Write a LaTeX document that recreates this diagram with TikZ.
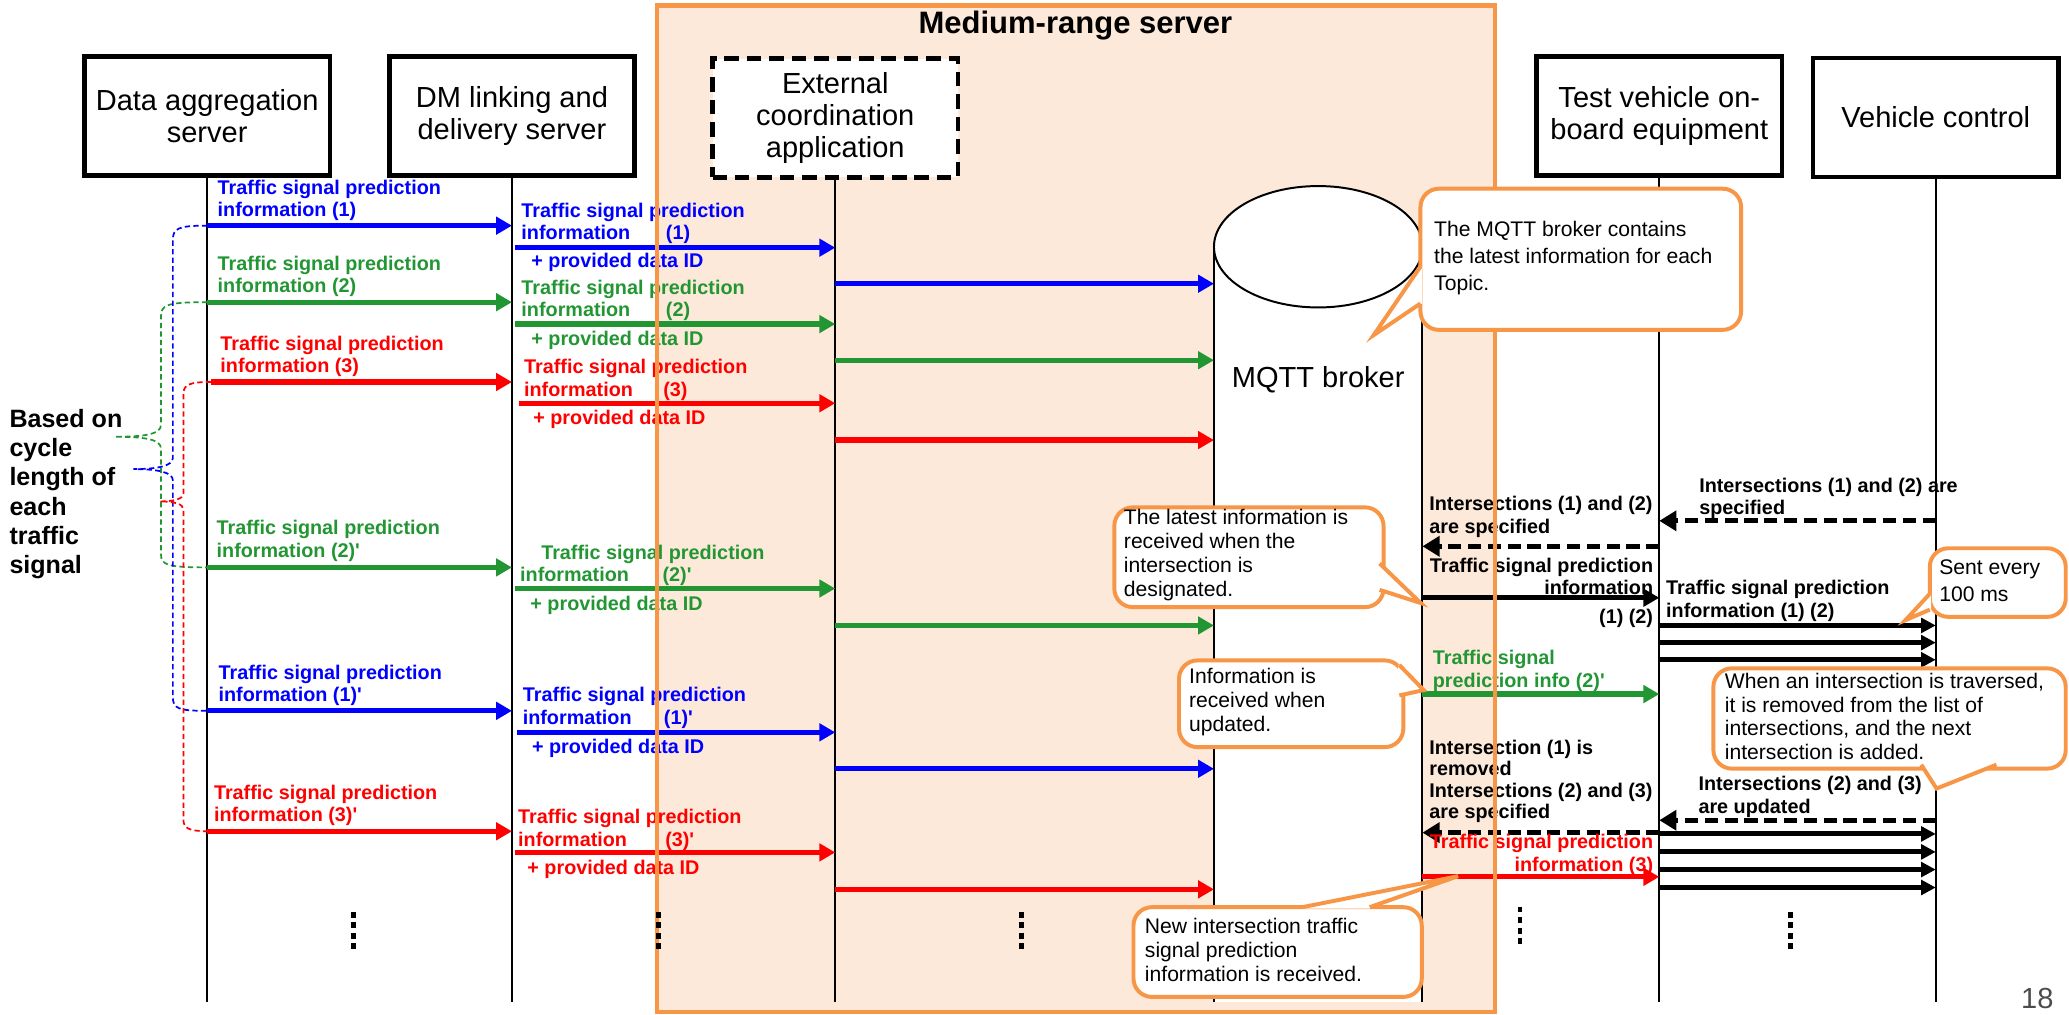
\documentclass[tikz,border=0pt]{standalone}
\usepackage{fontspec}
\setmainfont{Liberation Sans}
\usetikzlibrary{arrows.meta,shapes.geometric}
\definecolor{ogreen}{RGB}{35,150,52}
\definecolor{oorange}{RGB}{247,150,70}
\definecolor{peach}{RGB}{253,233,217}
\definecolor{oblue}{RGB}{0,0,255}
\definecolor{ored}{RGB}{255,0,0}
\tikzset{
  hdr/.style={draw=black, line width=3.5pt, fill=white, minimum width=186pt, minimum height=90pt,
    align=center, font=\fontsize{22}{24.5}\selectfont, inner sep=0pt},
  life/.style={line width=1.3pt, black},
  msg/.style={line width=4pt, -{Triangle[length=12pt,width=13pt]}},
  smsg/.style={line width=3.8pt, black, -{Triangle[length=11pt,width=11pt]}},
  dmsg/.style={line width=4pt, black, dash pattern=on 10pt off 5pt, -{Triangle[length=13pt,width=15pt]}},
  lbl/.style={font=\bfseries\fontsize{15}{17}\selectfont, align=left, inner sep=0pt, anchor=west},
  bd/.style={line width=1.3pt, dash pattern=on 4pt off 2.5pt},
  dots/.style={line width=3.5pt, black, dash pattern=on 4.5pt off 3.5pt},
  cbox/.style={draw=oorange, line width=3pt, fill=white, rounded corners=14pt, inner sep=0pt, anchor=north west},
  ctext/.style={font=\fontsize{16}{18}\selectfont, align=left, inner sep=0pt, anchor=west},
  ptrfill/.style={fill=white},
  ptrline/.style={draw=oorange, line width=3pt, line join=miter},
}
\begin{document}
\begin{tikzpicture}[x=1pt,y=-1pt]
\useasboundingbox (0,0) rectangle (1568,768.5);
% medium-range server background
\fill[peach] (498,4) rectangle (1133,767);

% header boxes
\node[hdr] (DA) at (157,88) {Data aggregation\\server};
\node[hdr] (DM) at (388,88) {DM linking and\\delivery server};
\node[hdr, dash pattern=on 11pt off 6pt] (ECA) at (633,89.5) {External\\coordination\\application};
\node[hdr] (TV) at (1257.5,88) {Test vehicle on-\\board equipment};
\node[hdr] (VC) at (1467,89) {Vehicle control};

% lifelines
\draw[life] (DA.south) -- (DA.south |- 0,759);
\draw[life] (DM.south) -- (DM.south |- 0,759);
\draw[life] (ECA.south) -- (ECA.south |- 0,759);
\draw[life] (TV.south) -- (TV.south |- 0,759);
\draw[life] (VC.south) -- (VC.south |- 0,759);

% MQTT broker cylinder
\coordinate (mqL) at (920,187);
\coordinate (mqR) at (1078,187);
\fill[white] (mqL) rectangle (1078,759);
\draw[line width=1.5pt] (mqL) -- (mqL |- 0,759);
\draw[line width=1.5pt] (mqR) -- (mqR |- 0,759);
\node[ellipse, draw, line width=1.5pt, fill=white, minimum width=158pt, minimum height=92pt, inner sep=0pt] (mqtop) at (999,187) {};
\node[font=\fontsize{22}{24}\selectfont, inner sep=0pt] (mqtxt) at (999,288) {MQTT broker};

% braces
\draw[bd, ogreen] (157,229) .. controls (126,229) and (122,231) .. (122,240) -- (122,322)
  .. controls (122,329) and (110,331) .. (87,331) .. controls (110,331) and (122,333) .. (122,340)
  -- (122,420) .. controls (122,428) and (126,430) .. (157,430);
\draw[bd, oblue] (157,171) .. controls (135,171) and (131,173) .. (131,182) -- (131,347)
  .. controls (131,353) and (120,355.5) .. (101,355.5) .. controls (120,355.5) and (131,358) .. (131,364)
  -- (131,528) .. controls (131,537) and (135,538.7) .. (157,538.7);
\draw[bd, ored] (160,289.5) .. controls (143,289.5) and (139,291.5) .. (139,299) -- (139,374)
  .. controls (139,378) and (132,380) .. (121,380) .. controls (132,380) and (139,382) .. (139,386)
  -- (139,621) .. controls (139,628) and (143,630) .. (160,630);
\node[lbl, font=\bfseries\fontsize{19}{22.2}\selectfont] (based) at (7,374.5) {Based on\\cycle\\length of\\each\\traffic\\signal};

% column 1 arrows DA -> DM
\draw[msg, oblue] (DA |- 0,171) -- (DM |- 0,171);
\draw[msg, ogreen] (DA |- 0,229) -- (DM |- 0,229);
\draw[msg, ored] (160,289.5) -- (DM |- 0,289.5);
\draw[msg, ogreen] (DA |- 0,430) -- (DM |- 0,430);
\draw[msg, oblue] (DA |- 0,538.7) -- (DM |- 0,538.7);
\draw[msg, ored] (DA |- 0,630) -- (DM |- 0,630);
\node[lbl, text=oblue] (l11) at (164.8,152) {Traffic signal prediction\\information (1)};
\node[lbl, text=ogreen] (l12) at (164.8,209.5) {Traffic signal prediction\\information (2)};
\node[lbl, text=ored] (l13) at (166.9,270) {Traffic signal prediction\\information (3)};
\node[lbl, text=ogreen] (l14) at (164,410) {Traffic signal prediction\\information (2)\textquotesingle};
\node[lbl, text=oblue] (l15) at (165.5,519.5) {Traffic signal prediction\\information (1)\textquotesingle};
\node[lbl, text=ored] (l16) at (162,610.5) {Traffic signal prediction\\information (3)\textquotesingle};

% column 2 arrows DM -> ECA
\draw[msg, oblue] (390,187.7) -- (ECA |- 0,187.7);
\draw[msg, ogreen] (390,245.6) -- (ECA |- 0,245.6);
\draw[msg, ored] (393,305.6) -- (ECA |- 0,305.6);
\draw[msg, ogreen] (390,446) -- (ECA |- 0,446);
\draw[msg, oblue] (392,555) -- (ECA |- 0,555);
\draw[msg, ored] (390,646) -- (ECA |- 0,646);
\node[lbl, text=oblue] (l21) at (395,169.5) {Traffic signal prediction\\information\hspace{27pt}(1)};
\node[lbl, text=oblue] (p21) at (402.5,199) {+ provided data ID};
\node[lbl, text=ogreen] (l22) at (395,227.7) {Traffic signal prediction\\information\hspace{27pt}(2)};
\node[lbl, text=ogreen] (p22) at (402.5,257.7) {+ provided data ID};
\node[lbl, text=ored] (l23) at (397,288) {Traffic signal prediction\\information\hspace{23pt}(3)};
\node[lbl, text=ored] (p23) at (404,317.6) {+ provided data ID};
\node[lbl, text=ogreen] (l24) at (394,428.5) {\hspace*{16pt}Traffic signal prediction\\information\hspace{25.5pt}(2)\textquotesingle};
\node[lbl, text=ogreen] (p24) at (401.8,458.6) {+ provided data ID};
\node[lbl, text=oblue] (l25) at (396,536.5) {Traffic signal prediction\\information\hspace{24.5pt}(1)\textquotesingle};
\node[lbl, text=oblue] (p25) at (403,567) {+ provided data ID};
\node[lbl, text=ored] (l26) at (392.5,629) {Traffic signal prediction\\information\hspace{29pt}(3)\textquotesingle};
\node[lbl, text=ored] (p26) at (399.5,659) {+ provided data ID};

% column 3 arrows ECA -> MQTT
\draw[msg, oblue] (ECA |- 0,215) -- (mqL |- 0,215);
\draw[msg, ogreen] (ECA |- 0,273) -- (mqL |- 0,273);
\draw[msg, ored] (ECA |- 0,333.5) -- (mqL |- 0,333.5);
\draw[msg, ogreen] (ECA |- 0,474) -- (mqL |- 0,474);
\draw[msg, oblue] (ECA |- 0,582.6) -- (mqL |- 0,582.6);
\draw[msg, ored] (ECA |- 0,674) -- (mqL |- 0,674);

% right side
\draw[dmsg] (VC |- 0,394.7) -- (TV |- 0,394.7);
\node[lbl] (r1) at (1287.6,377.8) {Intersections (1) and (2) are\\specified};
\draw[dmsg] (TV |- 0,414) -- (mqR |- 0,414);
\node[lbl] (r2) at (1083,391.8) {Intersections (1) and (2)\\are specified};
\draw[msg, black] (mqR |- 0,453) -- (TV |- 0,453);
\node[lbl, align=right, anchor=east] (r3) at (1253,437) {Traffic signal prediction\\information};
\node[lbl, anchor=east] (r4) at (1253,468.6) {(1) (2)};
\draw[smsg] (TV |- 0,474) -- (VC |- 0,474);
\draw[smsg] (TV |- 0,487) -- (VC |- 0,487);
\draw[smsg] (TV |- 0,500) -- (VC |- 0,500);
\node[lbl] (r5) at (1262.5,455.3) {Traffic signal prediction\\information (1) (2)};
\draw[msg, ogreen] (mqR |- 0,526) -- (TV |- 0,526);
\node[lbl, text=ogreen] (r6) at (1085.7,508.3) {Traffic signal\\prediction info (2)\textquotesingle};
\node[lbl, font=\bfseries\fontsize{15}{16.3}\selectfont] (r7) at (1083,592) {Intersection (1) is\\removed\\Intersections (2) and (3)\\are specified};
\draw[dmsg] (VC |- 0,621.6) -- (TV |- 0,621.6);
\node[lbl] (r8) at (1287,604) {Intersections (2) and (3)\\are updated};
\draw[dmsg] (TV |- 0,631) -- (mqR |- 0,631);
\draw[smsg] (TV |- 0,632) -- (VC |- 0,632);
\draw[smsg] (TV |- 0,645.6) -- (VC |- 0,645.6);
\draw[smsg] (TV |- 0,659) -- (VC |- 0,659);
\draw[smsg] (TV |- 0,672.6) -- (VC |- 0,672.6);
\draw[msg, ored] (mqR |- 0,664.5) -- (TV |- 0,664.5);
\node[lbl, text=ored, align=right, anchor=east] (r9) at (1253,648) {Traffic signal prediction\\information (3)};

% orange border and title
\draw[oorange, line width=3.4pt] (498,4) rectangle (1133,767);
\node[font=\bfseries\fontsize{23.5}{26}\selectfont, inner sep=0pt] (title) at (815,19.5) {Medium-range server};

% continuation dots
\draw[dots] (268,691) -- (268,721);
\draw[dots] (499,691) -- (499,721);
\draw[dots] (774,691) -- (774,721);
\draw[dots] (1152,687) -- (1152,717);
\draw[dots] (1357,691) -- (1357,721);

% callouts
\node[cbox, minimum width=243pt, minimum height=107pt] (c1) at (1075,141.5) {};
\fill[ptrfill] (1077.5,202) -- (1041,254) -- (1077.5,230) -- cycle;
\draw[ptrline] (1076.5,202) -- (1041,254) -- (1076.5,230);
\node[ctext, font=\fontsize{16}{20.6}\selectfont] (t1) at (1086.7,195.6) {The MQTT broker contains\\the latest information for each\\Topic.};

\node[cbox, minimum width=204pt, minimum height=75.6pt] (c2) at (843,383) {};
\fill[ptrfill] (1044.5,427) -- (1076.7,457) -- (1044.5,447) -- cycle;
\draw[ptrline] (1045.5,427) -- (1076.7,457) -- (1045.5,447);
\node[ctext] (t2) at (851.6,420.6) {The latest information is\\received when the\\intersection is\\designated.};

\node[cbox, minimum width=103pt, minimum height=52pt] (c3) at (1461,414) {};
\fill[ptrfill] (1463.5,450) -- (1444,470) -- (1463.5,462) -- cycle;
\draw[ptrline] (1462.5,450) -- (1444,470) -- (1462.5,462);
\node[ctext, font=\fontsize{16}{20}\selectfont] (t3) at (1469.5,440) {Sent every\\100 ms};

\node[cbox, minimum width=170pt, minimum height=65.7pt] (c4) at (892,499) {};
\fill[ptrfill] (1059.5,504) -- (1079,523) -- (1059.5,527) -- cycle;
\draw[ptrline] (1060.5,504) -- (1079,523) -- (1060.5,527);
\node[ctext] (t4) at (901,532) {Information is\\received when\\updated.};

\node[cbox, minimum width=267pt, minimum height=76pt] (c5) at (1297,505) {};
\fill[ptrfill] (1456,578.5) -- (1467.6,597.6) -- (1513,578.5) -- cycle;
\draw[ptrline] (1456,579.5) -- (1467.6,597.6) -- (1513,579.5);
\node[ctext] (t5) at (1307,543) {When an intersection is traversed,\\it is removed from the list of\\intersections, and the next\\intersection is added.};

\node[cbox, minimum width=218.5pt, minimum height=68pt] (c6) at (857.5,686) {};
\fill[ptrfill] (987,688.5) -- (1105,664) -- (1038,688.5) -- cycle;
\draw[ptrline] (987,687.5) -- (1105,664) -- (1038,687.5);
\node[ctext] (t6) at (867.5,720) {New intersection traffic\\signal prediction\\information is received.};

% page number
\node[font=\fontsize{22}{24}\selectfont, text=black!70, inner sep=0pt] (pg) at (1544,757) {18};
\end{tikzpicture}
\end{document}
